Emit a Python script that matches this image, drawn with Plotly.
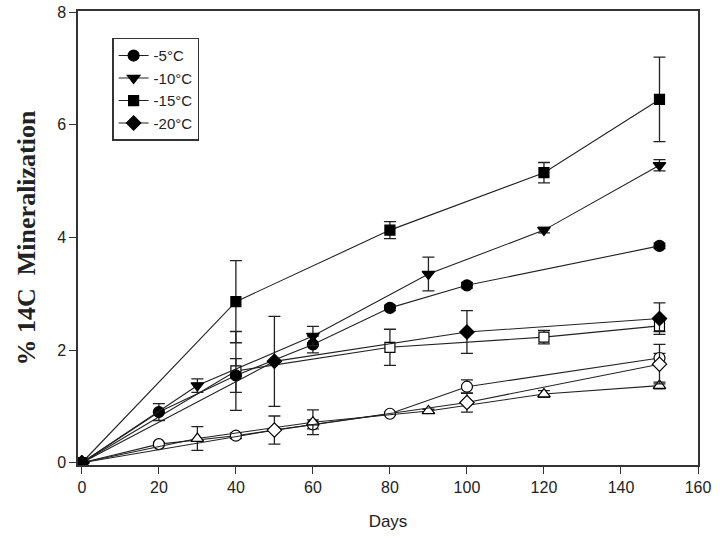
import plotly.graph_objects as go

# Filled series (legend)
days_m5 = [0, 20, 40, 60, 80, 100, 150]
val_m5 = [0, 0.90, 1.55, 2.10, 2.75, 3.15, 3.85]
err_m5 = [0, 0.15, 0.30, 0.15, 0.05, 0.05, 0.05]

days_m10 = [0, 30, 60, 90, 120, 150]
val_m10 = [0, 1.37, 2.25, 3.35, 4.13, 5.28]
err_m10 = [0, 0.12, 0.17, 0.30, 0.05, 0.10]

days_m15 = [0, 40, 80, 120, 150]
val_m15 = [0, 2.86, 4.13, 5.15, 6.45]
err_m15 = [0, 0.73, 0.15, 0.18, 0.75]

days_m20 = [0, 50, 100, 150]
val_m20 = [0, 1.80, 2.32, 2.56]
err_m20 = [0, 0.80, 0.38, 0.28]

# Open series (no legend)
days_o5 = [0, 20, 40, 60, 80, 100, 150]
val_o5 = [0, 0.33, 0.48, 0.68, 0.87, 1.35, 1.86]
err_o5 = [0, 0.03, 0.05, 0.08, 0.03, 0.12, 0.08]

days_o10 = [0, 30, 60, 90, 120, 150]
val_o10 = [0, 0.43, 0.72, 0.92, 1.22, 1.37]
err_o10 = [0, 0.21, 0.22, 0.03, 0.06, 0.06]

days_o15 = [0, 40, 80, 120, 150]
val_o15 = [0, 1.63, 2.05, 2.23, 2.43]
err_o15 = [0, 0.70, 0.32, 0.12, 0.10]

days_o20 = [0, 50, 100, 150]
val_o20 = [0, 0.58, 1.07, 1.75]
err_o20 = [0, 0.25, 0.17, 0.35]

legend_names = ["-5°C", "-10°C", "-15°C", "-20°C"]
x_ticks = [0, 20, 40, 60, 80, 100, 120, 140, 160]
y_ticks = [0, 2, 4, 6, 8]

fig = go.Figure()

def add(days, vals, errs, symbol, name, filled, show):
    fig.add_trace(go.Scatter(
        x=days, y=vals, mode="lines+markers", name=name, showlegend=show,
        line=dict(color="#222222", width=1.1),
        marker=dict(symbol=symbol, size=11 if symbol != "square" else 10,
                    color="black" if filled else "white",
                    line=dict(color="black", width=1.2)),
        error_y=dict(type="data", array=errs, visible=True, color="#222222",
                     thickness=1.3, width=6),
    ))

# open series first (drawn beneath)
add(days_o5, val_o5, err_o5, "circle", "o5", False, False)
add(days_o10, val_o10, err_o10, "triangle-up", "o10", False, False)
add(days_o15, val_o15, err_o15, "square", "o15", False, False)
add(days_o20, val_o20, err_o20, "diamond", "o20", False, False)

add(days_m5, val_m5, err_m5, "circle", legend_names[0], True, True)
add(days_m10, val_m10, err_m10, "triangle-down", legend_names[1], True, True)
add(days_m15, val_m15, err_m15, "square", legend_names[2], True, True)
add(days_m20, val_m20, err_m20, "diamond", legend_names[3], True, True)

axis_common = dict(showline=True, linecolor="#333333", linewidth=1.5, mirror=True,
                   ticks="outside", ticklen=7, tickcolor="#333333", tickwidth=1,
                   showgrid=False, zeroline=False, automargin=False,
                   tickfont=dict(family="Liberation Sans, Arial", size=16, color="#222222"))

fig.update_layout(
    width=720, height=547,
    margin=dict(l=78, r=22, t=11, b=82, autoexpand=False),
    paper_bgcolor="white", plot_bgcolor="white",
    xaxis=dict(range=[-1, 160], tickvals=x_ticks,
               title=dict(text="Days", font=dict(family="Liberation Sans, Arial", size=17, color="#222222"), standoff=20),
               **axis_common),
    yaxis=dict(range=[-0.04, 8.02], tickvals=y_ticks,
               title=dict(text="<b>% 14C  Mineralization</b>", font=dict(family="Liberation Serif, Times New Roman", size=26, color="#222222"), standoff=14),
               **axis_common),
    legend=dict(x=0.055, y=0.941, xanchor="left", yanchor="top",
                bordercolor="#333333", borderwidth=1.5, bgcolor="white",
                font=dict(family="Liberation Sans, Arial", size=15, color="#222222"),
                tracegroupgap=0, itemwidth=30),
    showlegend=True,
)

fig.write_html("out.html", config={"displayModeBar": False},
               post_script="document.body.style.margin='0';")
